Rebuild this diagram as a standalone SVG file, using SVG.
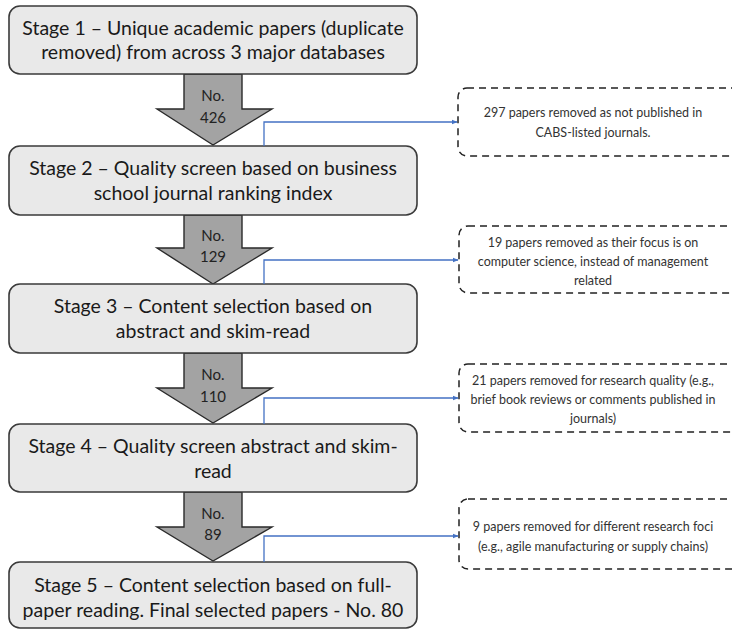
<svg xmlns="http://www.w3.org/2000/svg" width="732" height="630" viewBox="0 0 732 630">
<defs>
<style>
.stage{fill:#e9e9e9;stroke:#3a3a3a;stroke-width:1.6}
.st{font-family:Lato,"Open Sans",sans-serif;font-size:19.5px;fill:#1a1a1a;text-anchor:middle}
.arr{fill:#a3a3a3;stroke:#2a2a2a;stroke-width:1.4;stroke-linejoin:miter}
.at{font-family:Lato,"Open Sans",sans-serif;font-size:15px;fill:#222;text-anchor:middle}
.note{fill:#ffffff;stroke:#222;stroke-width:1.5;stroke-dasharray:7 5}
.nt{font-family:Lato,"Open Sans",sans-serif;font-size:12.5px;fill:#333;text-anchor:middle}
.conn{fill:none;stroke:#4472c4;stroke-width:1.3;marker-end:url(#ah)}
</style>
<marker id="ah" viewBox="0 0 10 10" refX="9" refY="5" markerWidth="6" markerHeight="6" orient="auto" markerUnits="userSpaceOnUse">
<path d="M0,1 L10,5 L0,9 z" fill="#4472c4"/>
</marker>
</defs>
<rect width="732" height="630" fill="#ffffff"/>

<g id="arrows">
<g id="arrow1"><path class="arr" d="M184,74 H242 V109 H272 L213,145 L157,109 H184 Z"/><text class="at" x="213" y="101">No.</text><text class="at" x="213" y="123">426</text></g>
<g id="arrow2"><path class="arr" d="M184,215 H242 V248 H272 L213,284 L157,248 H184 Z"/><text class="at" x="213" y="241">No.</text><text class="at" x="213" y="262">129</text></g>
<g id="arrow3"><path class="arr" d="M184,353 H242 V388 H272 L213,423 L157,388 H184 Z"/><text class="at" x="213" y="380">No.</text><text class="at" x="213" y="402">110</text></g>
<g id="arrow4"><path class="arr" d="M184,492 H242 V527 H272 L213,561 L157,527 H184 Z"/><text class="at" x="213" y="519">No.</text><text class="at" x="213" y="540">89</text></g>
</g>

<g id="stage1"><rect class="stage" x="9" y="6" width="408" height="68" rx="11"/><text class="st" x="213" y="35">Stage 1 – Unique academic papers (duplicate</text><text class="st" x="213" y="59">removed) from across 3 major databases</text></g>
<g id="stage2"><rect class="stage" x="9" y="146" width="408" height="69" rx="11"/><text class="st" x="213" y="175">Stage 2 – Quality screen based on business</text><text class="st" x="213" y="200">school journal ranking index</text></g>
<g id="stage3"><rect class="stage" x="9" y="284" width="408" height="69" rx="11"/><text class="st" x="213" y="313">Stage 3 – Content selection based on</text><text class="st" x="213" y="338">abstract and skim-read</text></g>
<g id="stage4"><rect class="stage" x="9" y="424" width="408" height="68" rx="11"/><text class="st" x="213" y="453">Stage 4 – Quality screen abstract and skim-</text><text class="st" x="213" y="478">read</text></g>
<g id="stage5"><rect class="stage" x="9" y="562" width="408" height="66" rx="11"/><text class="st" x="213" y="592">Stage 5 – Content selection based on full-</text><text class="st" x="213" y="617">paper reading. Final selected papers - No. 80</text></g>

<g id="note1"><rect class="note" x="458" y="88" width="290" height="68" rx="9"/><text class="nt" x="593" y="117">297 papers removed as not published in</text><text class="nt" x="593" y="137">CABS-listed journals.</text></g>
<g id="note2"><rect class="note" x="459" y="226" width="290" height="67" rx="9"/><text class="nt" x="593" y="247">19 papers removed as their focus is on</text><text class="nt" x="593" y="266">computer science, instead of management</text><text class="nt" x="593" y="285">related</text></g>
<g id="note3"><rect class="note" x="459" y="364" width="290" height="68" rx="9"/><text class="nt" x="593" y="385">21 papers removed for research quality (e.g.,</text><text class="nt" x="593" y="404">brief book reviews or comments published in</text><text class="nt" x="593" y="423">journals)</text></g>
<g id="note4"><rect class="note" x="459" y="499" width="290" height="70" rx="9"/><text class="nt" x="593" y="531">9 papers removed for different research foci</text><text class="nt" x="593" y="551">(e.g., agile manufacturing or supply chains)</text></g>

<g id="connectors">
<path class="conn" d="M264,146 V122 H457"/>
<path class="conn" d="M264,284 V260 H458"/>
<path class="conn" d="M264,424 V398 H458"/>
<path class="conn" d="M264,562 V536 H458"/>
</g>
</svg>
